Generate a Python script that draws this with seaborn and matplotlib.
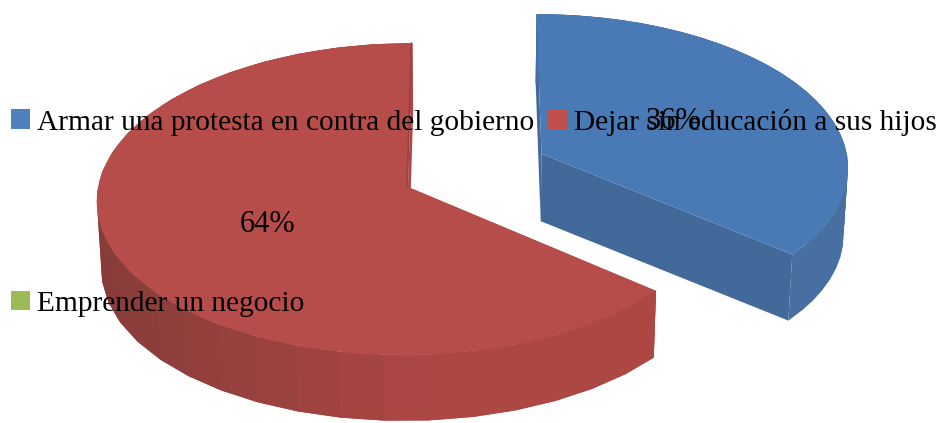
import numpy as np
import matplotlib
matplotlib.use("Agg")
import matplotlib.pyplot as plt
from matplotlib.colors import to_rgb
from matplotlib.transforms import Transform
import seaborn as sns

categories = ["Armar una protesta en contra del gobierno",
              "Dejar sin educación a sus hijos",
              "Emprender un negocio"]
values = [36, 64, 0]
legend_colors = ["#4F81BD", "#C0504D", "#9BBB59"]
top_colors = ["#4A7AB5", "#B64D4A", "#9BBB59"]
rim_dark = ["#426A9C", "#863C39", "#9BBB59"]
rim_light = ["#476FA2", "#AC4744", "#9BBB59"]
cut_color = "#43699A"
explode = [0.48, 0, 0]
top_y = [185, 187, 187]
bottom_y = [252, 255, 255]
label_y = [184, 192, 187]


class Plane(Transform):
    # pie plane -> picture pixels, with a bit of perspective
    input_dims = 2
    output_dims = 2

    def __init__(self, y0, scale):
        super().__init__()
        self.y0 = y0
        self.scale = scale

    def transform_non_affine(self, values):
        u, v = np.asarray(values, dtype=float).T
        w = 1 + 0.077 * v
        x = 470 + self.scale * 310 * (u - 0.2) / w
        y = self.y0 - self.scale * 155 * v / w
        return np.column_stack([x, y])


sns.set_theme(style="white")
plt.rcParams["font.family"] = ["Liberation Serif", "DejaVu Serif"]

fig, ax = plt.subplots(figsize=(9.41, 4.23), dpi=100)
ax.set_position([0, 0, 1, 1])


def pct_label(pct):
    return "%.0f%%" % pct if pct > 0 else ""


wedges, _, autotexts = ax.pie(values, colors=sns.color_palette(top_colors), explode=explode,
                              startangle=90, counterclock=False, radius=1,
                              autopct=pct_label, pctdistance=0.49,
                              wedgeprops={"linewidth": 0},
                              textprops={"fontsize": 22, "color": "black"})
ax.set_aspect("auto")
ax.set_xlim(0, 941)
ax.set_ylim(423, 0)
ax.axis("off")

for i, wedge in enumerate(wedges):
    if values[i] == 0:
        continue
    top = Plane(top_y[i], 1.0)
    bottom = Plane(bottom_y[i], 0.988)
    cx, cy = wedge.center
    angles = np.radians(np.linspace(wedge.theta1, wedge.theta2, 31))
    rim = np.column_stack([cx + np.cos(angles), cy + np.sin(angles)])
    dark = np.array(to_rgb(rim_dark[i]))
    light = np.array(to_rgb(rim_light[i]))
    base = 2 * i + 1

    # flat cut faces, from the centre of the slice to both ends of the rim
    for end in [rim[0], rim[-1]]:
        pts = np.array([[cx, cy], end])
        ring = np.vstack([top.transform(pts), bottom.transform(pts)[::-1]])
        ax.fill(ring[:, 0], ring[:, 1], color=cut_color if i == 0 else rim_light[i],
                lw=0, zorder=base)

    # curved wall, shaded darker to the left; each band overlaps the next to hide seams
    for j in range(len(rim) - 1):
        pts = rim[j:j + 3]
        ring = np.vstack([top.transform(pts), bottom.transform(pts)[::-1]])
        mix = np.clip(np.cos(angles[j]) + 1, 0, 1)
        ax.fill(ring[:, 0], ring[:, 1], color=dark + (light - dark) * mix,
                lw=0, zorder=base)

    wedge.set_transform(top + ax.transData)
    wedge.set_zorder(base + 1)
    autotexts[i].set_transform(Plane(label_y[i], 1.0) + ax.transData)
    autotexts[i].set_zorder(10)

# thin dark edge along the red slice
edge = Plane(top_y[1], 1.0).transform(np.array([[0, 0], [0, 1]]))
ax.plot(edge[:, 0] - 1, edge[:, 1], color="#9A4240", lw=1.2, zorder=4)

# columns fill top to bottom, so the third entry goes second
order = [0, 2, 1]
handles = [plt.Rectangle((0, 0), 1, 1, color=legend_colors[i], lw=0) for i in order]
leg = ax.legend(handles, [categories[i] for i in order], ncol=2, frameon=False,
                loc="upper left", bbox_to_anchor=(11 / 941, 1 - 108.5 / 423),
                bbox_transform=fig.transFigure, borderaxespad=0, borderpad=0,
                fontsize=21.2, labelcolor="black", handlelength=0.64, handleheight=0.64,
                handletextpad=0.24, columnspacing=0.47, labelspacing=5.27)
leg.set_zorder(9)

fig.savefig("out.png", dpi=100)
